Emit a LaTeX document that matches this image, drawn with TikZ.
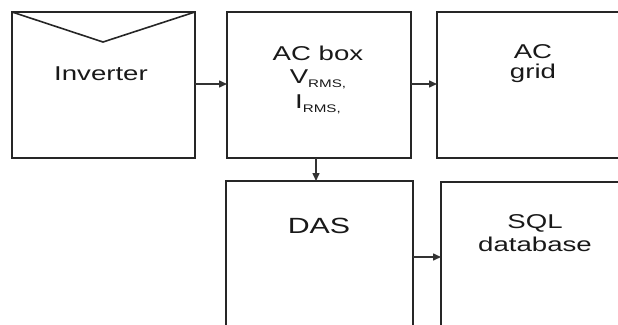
\documentclass[tikz,border=0pt]{standalone}
\usepackage{fontspec}
\setmainfont[FakeStretch=1.38]{Liberation Sans}
\usetikzlibrary{arrows.meta}
\newcommand{\subrms}[1]{\raisebox{-0.45ex}{\fontsize{11}{11}\selectfont #1}}
\begin{document}
\begin{tikzpicture}[x=1pt,y=-1pt,
  box/.style={draw=black!85, line width=1.6pt},
  lbl/.style={anchor=base, inner sep=0pt, font=\fontsize{20}{20}\selectfont, text=black!90},
  conn/.style={draw=black!80, line width=1.5pt, -{Triangle[length=8pt,width=7pt]}}]
\useasboundingbox (0,0) rectangle (618,324);
\clip (0,0) rectangle (618,324);
% boxes
\draw[box] (12,12) rectangle (195,158);
\draw[box] (12,12) -- (103,42) -- (195,12);
\draw[box] (227,12) rectangle (411,158);
\draw[box] (437,12) rectangle (700,158);
\draw[box] (226,181) rectangle (413,400);
\draw[box] (441,182) rectangle (700,400);
% anchor coordinates
\coordinate (invR) at (195,84);
\coordinate (acL) at (227,84);
\coordinate (acR) at (411,84);
\coordinate (gridL) at (437,84);
\coordinate (acB) at (316,158);
\coordinate (dasT) at (316,181);
\coordinate (dasR) at (413,257);
\coordinate (sqlL) at (441,257);
% texts
\node[lbl] (tinv) at (101,80) {Inverter};
\node[lbl] (tac1) at (318,60) {AC box};
\node[lbl] (tac2) at (318,83) {V\subrms{RMS,}};
\node[lbl] (tac3) at (318,108) {I\subrms{RMS,}};
\node[lbl] (tg1) at (533,58) {AC};
\node[lbl] (tg2) at (533,78) {grid};
\node[lbl, font=\fontsize{22}{22}\selectfont] (tdas) at (319,233) {DAS};
\node[lbl] (ts1) at (535,228) {SQL};
\node[lbl] (ts2) at (535,251) {database};
% connectors
\draw[conn] (invR) -- (acL);
\draw[conn] (acR) -- (gridL);
\draw[conn] (acB) -- (dasT);
\draw[conn] (dasR) -- (sqlL);
\end{tikzpicture}
\end{document}
